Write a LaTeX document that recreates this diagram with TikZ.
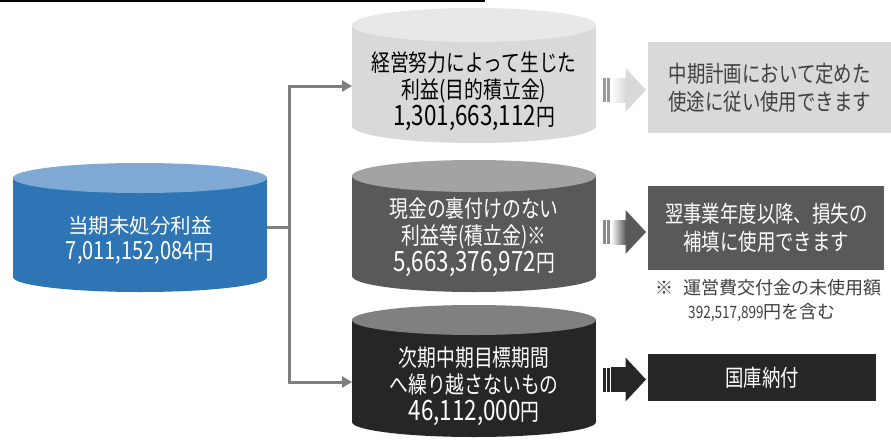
\documentclass[tikz,border=0pt]{standalone}
\usepackage{fontspec}
\setmainfont{Noto Sans CJK JP}
\newfontfamily\narrowf[FakeStretch=0.8]{Noto Sans CJK JP}
\usetikzlibrary{arrows.meta}
\definecolor{bluebody}{HTML}{2E75B6}
\definecolor{bluetop}{HTML}{7FA8D4}
\definecolor{lgbody}{HTML}{D9D9D9}
\definecolor{lgtop}{HTML}{E8E8E8}
\definecolor{mgbody}{HTML}{595959}
\definecolor{mgtop}{HTML}{A3A3A3}
\definecolor{dgbody}{HTML}{262626}
\definecolor{dgtop}{HTML}{808080}
\definecolor{conncol}{HTML}{7F7F7F}
\definecolor{txtdark}{HTML}{404040}
\definecolor{barlight}{HTML}{9A9A9A}
\definecolor{barmid}{HTML}{8A8A8A}

\newcommand\drawcyl[7]{%
  \fill[#6] (#1,#3+#5) rectangle (#2,#4-#5);
  \fill[#6] ({(#1+#2)/2},#4-#5) ellipse [x radius={(#2-#1)/2*1pt}, y radius=#5pt];
  \fill[#7] ({(#1+#2)/2},#3+#5) ellipse [x radius={(#2-#1)/2*1pt}, y radius=#5pt];}
\newcommand\blockarrow[4]{%
  \fill[#2] (603,#1-12) rectangle (605.5,#1+12);
  \fill[#2] (607,#1-12) rectangle (609.5,#1+12);
  \shade[left color=#3, right color=#4] (611,#1-12) rectangle (626,#1+12);
  \fill[#4] (625.5,#1-12) -- (625.5,#1-22) -- (646,#1) -- (625.5,#1+22) -- (625.5,#1+12) -- cycle;}
\newcommand\bignum[1]{{\fontsize{28}{27}\selectfont #1}}
\newcommand\bluenum[1]{{\narrowf\fontsize{25}{25}\selectfont #1}}

\begin{document}
\begin{tikzpicture}[x=1pt,y=-1pt,
  cyltext/.style={align=center, inner sep=0pt, font=\narrowf\fontsize{23.5}{27}\selectfont},
  boxtext/.style={align=center, inner sep=0pt, anchor=north west, font=\narrowf\fontsize{23}{28}\selectfont},
  conn/.style={draw=conncol, line width=3pt},
  connarrow/.style={conn, -{Triangle[length=10pt,width=11pt]}}]
\useasboundingbox (0,0) rectangle (891,439);
\fill[white] (0,0) rectangle (891,439);
\draw[line width=1.5pt] (0,0.75) -- (485,0.75);

% cylinders
\drawcyl{13}{267}{163}{292}{15}{bluebody}{bluetop}
\drawcyl{352}{596}{8}{143}{17}{lgbody}{lgtop}
\drawcyl{352}{596}{160}{292}{16}{mgbody}{mgtop}
\drawcyl{352}{596}{305}{437}{15}{dgbody}{dgtop}

\node[align=center, inner sep=0pt, text=white, font=\fontsize{20.5}{26}\selectfont] (blue) at (140,240)
  {当期未処分利益\\\bluenum{7,011,152,084}円};
\node[cyltext, text=black] (c1) at (474,91)
  {経営努力によって生じた\\利益(目的積立金)\\\bignum{1,301,663,112}円};
\node[cyltext, text=white] (c2) at (474,237)
  {現金の裏付けのない\\利益等(積立金)※\\\bignum{5,663,376,972}円};
\node[cyltext, text=white] (c3) at (474,386)
  {次期中期目標期間\\へ繰り越さないもの\\\bignum{46,112,000}円};

% connectors
\coordinate (bout) at (267,227);
\coordinate (jn) at (289,227);
\coordinate (t1in) at (352,86);
\coordinate (t3in) at (352,382);
\draw[conn] (bout) -- (jn);
\draw[connarrow] (jn) |- (t1in);
\draw[connarrow] (jn) |- (t3in);

% block arrows
\blockarrow{90}{barlight}{white}{lgbody}
\blockarrow{232}{barmid}{white}{mgbody}
\blockarrow{379.5}{dgbody}{dgbody}{dgbody}

% right boxes
\node[boxtext, fill=lgbody, text=txtdark, minimum width=243pt, minimum height=91pt] (r1) at (648,42)
  {中期計画において定めた\\使途に従い使用できます};
\node[boxtext, fill=mgbody, text=white, minimum width=236pt, minimum height=84pt] (r2) at (648,186)
  {翌事業年度以降、損失の\\補填に使用できます};
\node[boxtext, fill=dgbody, text=white, minimum width=228pt, minimum height=47pt] (r3) at (648,354)
  {国庫納付};

\node[align=left, inner sep=0pt, anchor=north west, text=txtdark, font=\fontsize{18}{24}\selectfont] (note) at (655,279)
  {※\hspace{10pt}運営費交付金の未使用額\\\hspace*{33pt}{\narrowf\fontsize{17}{24}\selectfont 392,517,899}円を含む};
\end{tikzpicture}
\end{document}
